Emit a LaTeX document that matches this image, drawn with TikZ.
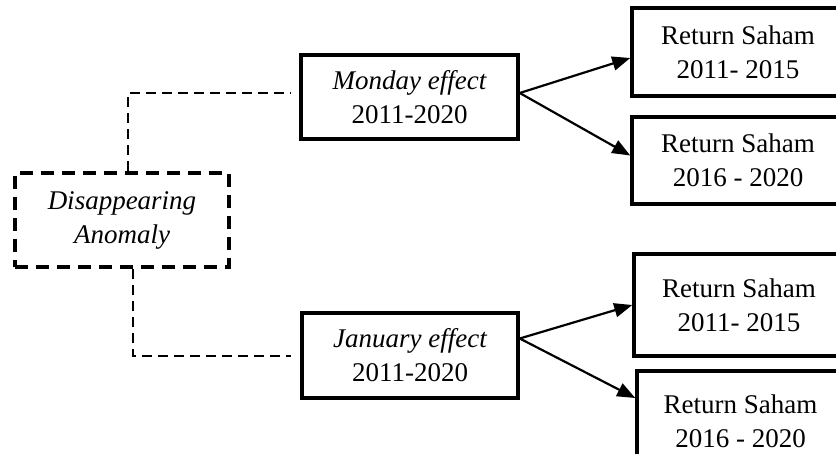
\documentclass[tikz,border=0pt]{standalone}
\usepackage{fontspec}
\setmainfont{Liberation Serif}
\usetikzlibrary{arrows.meta,calc}
\tikzset{
  box/.style={draw=black, line width=3.5pt, inner sep=0pt, align=center,
    font=\fontsize{27}{34}\selectfont},
  dbox/.style={box, line width=4pt, dash pattern=on 13pt off 8pt},
  dline/.style={draw=black, line width=2.2pt, dash pattern=on 10pt off 6pt},
  arr/.style={draw=black, line width=2.2pt, -{Triangle[length=18pt,width=14pt]}}
}
\begin{document}
\begin{tikzpicture}[x=1pt,y=-1pt]
\useasboundingbox (0,0) rectangle (836,454);
\clip (0,0) rectangle (836,454);
\node[dbox, minimum width=214pt, minimum height=94pt] (dis) at (122,220) {\itshape Disappearing\\\itshape Anomaly};
\node[box, minimum width=217pt, minimum height=84pt] (mon) at (409.5,97) {\itshape Monday effect\\2011-2020};
\node[box, minimum width=216pt, minimum height=85pt] (jan) at (410,355.5) {\itshape January effect\\2011-2020};
\node[box, minimum width=212pt, minimum height=88pt] (r1) at (738,52) {Return Saham\\2011- 2015};
\node[box, minimum width=212pt, minimum height=87pt] (r2) at (738,160.5) {Return Saham\\2016 - 2020};
\node[box, minimum width=210pt, minimum height=102pt] (r3) at (739,305) {Return Saham\\2011- 2015};
\node[box, minimum width=207pt, minimum height=100pt] (r4) at (740.5,421) {Return Saham\\2016 - 2020};
\draw[dline] ($(dis.north)+(6,0)$) |- ($(mon.west)+(-8,-4)$);
\draw[dline] ($(dis.south)+(11,0)$) |- ($(jan.west)+(-9,0.5)$);
\draw[arr] ($(mon.east)+(0,-4)$) -- ($(r1.west)+(0,6)$);
\draw[arr] ($(mon.east)+(0,-4)$) -- ($(r2.west)+(0,-5)$);
\draw[arr] ($(jan.east)+(0,-17)$) -- ($(r3.west)+(0,0)$);
\draw[arr] ($(jan.east)+(0,-17)$) -- ($(r4.west)+(0,-23)$);
\end{tikzpicture}
\end{document}
